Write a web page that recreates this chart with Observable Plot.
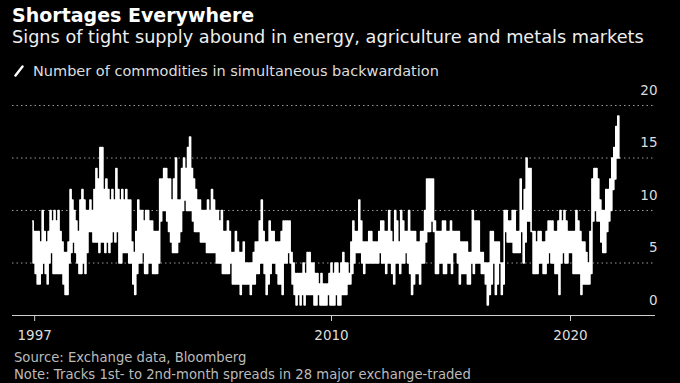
<!DOCTYPE html>
<html>
<head>
<meta charset="utf-8">
<script src="https://cdn.jsdelivr.net/npm/d3@7"></script>
<script src="https://cdn.jsdelivr.net/npm/@observablehq/plot@0.6"></script>
<style>
  html, body { margin: 0; padding: 0; background: #000; }
  #wrap { position: relative; width: 680px; height: 383px; overflow: hidden; background: #000; font-family: "DejaVu Sans", sans-serif; }
  #title { position: absolute; left: 12px; top: 4px; font-size: 19px; font-weight: bold; color: #fff; white-space: nowrap; z-index: 2; }
  #subtitle { position: absolute; left: 12px; top: 27px; font-size: 17.7px; color: #eee; white-space: nowrap; z-index: 2; }
  #legend { position: absolute; left: 14px; top: 63px; font-size: 14.5px; color: #ddd; white-space: nowrap; display: flex; align-items: center; gap: 9px; z-index: 2; }
  #chart { position: absolute; left: 0; top: 75px; z-index: 1; }
  #caption { position: absolute; left: 14px; top: 349px; font-size: 13.2px; line-height: 17px; color: #bbb; white-space: nowrap; z-index: 2; }
</style>
</head>
<body>
<div id="wrap">
  <div id="chart"></div>
  <div id="title">Shortages Everywhere</div>
  <div id="subtitle">Signs of tight supply abound in energy, agriculture and metals markets</div>
  <div id="legend"><svg width="10" height="12"><line x1="1.5" y1="10.5" x2="8.5" y2="1.5" stroke="#fff" stroke-width="2.4" stroke-linecap="round"/></svg><span>Number of commodities in simultaneous backwardation</span></div>
  <div id="caption">Source: Exchange data, Bloomberg<br>Note: Tracks 1st- to 2nd-month spreads in 28 major exchange-traded</div>
</div>
<script>
// Monthly readings from July 1997 to January 2022: highest and lowest count seen in each month
const startMonth = "1997-07-01";
const monthlyHigh = [
  9,8,8,8,7,10,8,7,8,10,9,10,9,10,8,7,6,6,7,12,11,10,9,8,11,12,11,10,10,11,10,12,14,13,16,16,12,13,12,11,12,11,14,12,11,12,11,12,11,
  11,7,6,8,11,10,10,9,10,10,9,9,8,8,8,13,13,14,14,13,13,11,13,15,11,11,14,15,14,16,17,14,13,12,11,11,10,10,10,11,10,12,11,10,10,9,10,8,8,9,
  8,6,6,8,7,6,6,7,5,5,5,5,6,7,7,9,11,8,7,7,9,8,8,7,7,7,8,9,9,9,9,6,5,4,4,4,4,5,4,6,6,5,5,4,4,3,4,3,3,3,
  4,5,4,5,5,4,5,6,5,5,4,7,9,8,8,11,9,7,7,7,8,8,7,7,7,8,9,9,8,8,10,8,7,10,9,7,10,9,8,8,10,8,8,8,7,7,8,8,10,13,
  13,13,13,9,8,8,8,9,9,8,8,9,8,8,8,8,7,7,7,7,6,6,10,9,9,9,6,6,5,5,5,8,8,7,7,7,5,5,10,10,9,9,10,10,8,8,13,10,12,15,
  14,14,8,8,7,8,8,7,7,8,9,9,9,8,8,9,10,9,10,9,8,8,8,8,10,9,8,7,7,6,5,8,13,14,14,13,11,10,10,12,12,13,15,16,18,19
];
const monthlyLow = [
  5,4,3,3,4,5,4,3,5,6,4,4,4,4,4,3,2,2,5,6,7,6,5,4,4,5,4,6,8,8,7,7,7,6,7,7,6,7,6,7,8,7,8,5,5,6,6,6,5,
  5,3,2,4,5,5,6,4,4,5,5,4,4,4,5,9,10,10,9,8,7,6,6,6,7,8,10,11,10,10,10,9,8,8,8,7,7,7,6,6,6,6,6,5,5,5,4,4,4,4,
  5,3,3,3,3,2,3,3,3,3,2,3,3,4,4,5,5,4,2,3,4,5,5,4,3,3,2,5,5,6,5,3,2,1,2,1,2,1,2,2,2,2,1,1,2,1,1,1,1,2,
  1,1,1,2,1,1,2,2,2,3,3,4,5,6,6,6,5,4,5,5,5,5,5,5,5,6,5,5,4,5,5,4,3,5,5,4,5,5,6,5,4,2,3,4,4,3,5,5,7,8,
  8,9,8,4,4,5,5,4,4,5,5,4,6,6,5,3,4,4,4,3,3,5,4,5,5,5,4,4,3,1,2,3,5,2,3,5,2,3,8,7,7,7,6,6,6,6,8,5,7,9,
  9,8,4,4,4,5,5,4,4,5,6,5,5,4,4,2,5,6,5,5,6,6,4,4,4,4,2,3,3,3,3,4,9,10,9,9,7,6,6,8,9,10,12,13,15,15
];
const yTicks = [0, 5, 10, 15, 20];
const xTickDates = ["1997-08-01", "2010-01-01", "2020-01-01"];
const xTickLabels = ["1997", "2010", "2020"];

const t0 = new Date(startMonth + "T00:00:00Z");
const series = [];
monthlyHigh.forEach((hi, i) => {
  const m = d3.utcMonth.offset(t0, i);
  series.push({date: m, value: hi});
  series.push({date: d3.utcDay.offset(m, 15), value: monthlyLow[i]});
});
const xTicks = xTickDates.map(s => new Date(s + "T00:00:00Z"));

const chart = Plot.plot({
  width: 680,
  height: 270,
  marginLeft: 12,
  marginRight: 25,
  marginTop: 30,
  marginBottom: 30,
  style: {background: "transparent", color: "#ddd", fontFamily: "'DejaVu Sans', sans-serif", fontSize: "13px", overflow: "visible"},
  x: {type: "utc", domain: [new Date("1996-08-27T00:00:00Z"), new Date("2023-07-23T00:00:00Z")]},
  y: {domain: [0, 20]},
  marks: [
    Plot.gridY([5, 10, 15, 20], {stroke: "#9a9a9a", strokeOpacity: 1, strokeDasharray: "1.5,3"}),
    Plot.ruleY([0], {stroke: "#cfcfcf", strokeWidth: 1}),
    Plot.line(series, {x: "date", y: "value", stroke: "#fff", strokeWidth: 1.6, curve: "step"}),
    Plot.axisY(yTicks, {anchor: "right", tickSize: 0, tickPadding: 0, textAnchor: "end", dx: 2, dy: -15, fill: "#ddd", fontSize: 13.5, label: null}),
    Plot.axisX(xTicks, {anchor: "bottom", tickSize: 6, tickPadding: 9, stroke: "#cfcfcf", fill: "#ddd", fontSize: 13.5, label: null,
      tickFormat: d => xTickLabels[xTicks.findIndex(t => +t === +d)]})
  ]
});
document.getElementById("chart").appendChild(chart);
</script>
</body>
</html>
